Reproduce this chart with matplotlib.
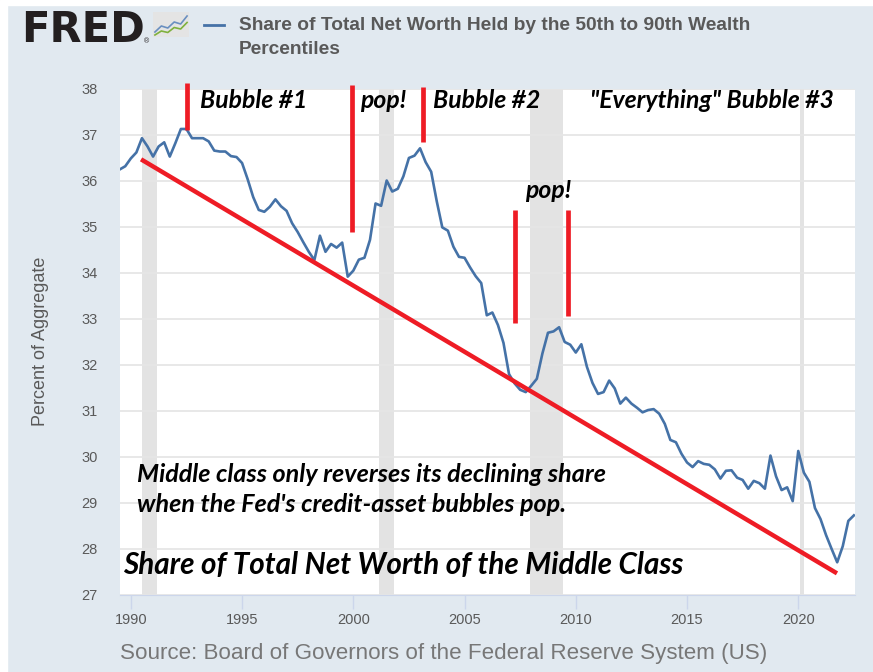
import numpy as np
import matplotlib.pyplot as plt
from matplotlib.patches import Rectangle

# quarterly data, 1989Q3 .. 2022Q3 (percent of aggregate)
share = [
    36.24, 36.31, 36.48, 36.61, 36.92, 36.74, 36.52, 36.74, 36.83, 36.52,
    36.81, 37.12, 37.12, 36.92, 36.92, 36.92, 36.85, 36.65, 36.63, 36.63,
    36.53, 36.51, 36.38, 36.03, 35.64, 35.36, 35.32, 35.43, 35.59, 35.44,
    35.34, 35.07, 34.88, 34.66, 34.45, 34.27, 34.80, 34.45, 34.62, 34.54,
    34.65, 33.91, 34.04, 34.28, 34.32, 34.71, 35.50, 35.45, 36.00, 35.76,
    35.82, 36.09, 36.49, 36.54, 36.70, 36.40, 36.19, 35.55, 34.98, 34.91,
    34.56, 34.34, 34.32, 34.11, 33.92, 33.77, 33.07, 33.13, 32.86, 32.47,
    31.79, 31.59, 31.45, 31.40, 31.54, 31.69, 32.24, 32.69, 32.72, 32.81,
    32.49, 32.43, 32.26, 32.44, 31.95, 31.60, 31.36, 31.40, 31.65, 31.48,
    31.15, 31.28, 31.15, 31.06, 30.96, 31.01, 31.03, 30.93, 30.71, 30.36,
    30.31, 30.06, 29.87, 29.77, 29.90, 29.84, 29.82, 29.72, 29.52, 29.69,
    29.70, 29.54, 29.49, 29.30, 29.47, 29.42, 29.30, 30.02, 29.57, 29.27,
    29.33, 29.03, 30.12, 29.65, 29.45, 28.88, 28.64, 28.29, 27.99, 27.70,
    28.05, 28.60, 28.72,
]
start_year = 1989.5
years = start_year + 0.25 * np.arange(len(share))

recessions = [(1990.5, 1991.17), (2001.17, 2001.83), (2007.92, 2009.42), (2020.08, 2020.25)]

# hand drawn annotations
trend_x = [1990.46, 2021.74]
trend_y = [36.46, 27.46]
bar_x = [1992.51, 1999.93, 2003.15, 2007.27, 2009.64]
bar_top = [38.12, 38.08, 38.04, 35.36, 35.36]
bar_bottom = [37.10, 34.87, 36.84, 32.90, 33.05]

x_ticks = [1990, 1995, 2000, 2005, 2010, 2015, 2020]
y_ticks = list(range(27, 39))

# little logo icon
icon_x = [0, 1, 2, 3, 4, 5]
icon_blue = [1.0, 2.2, 1.8, 3.0, 2.6, 4.2]
icon_green = [0.4, 1.2, 0.9, 1.9, 1.6, 2.9]

W, H = 873, 672
blue = '#4572a7'
red = '#ee1c25'
grey_txt = '#595959'


def fx(x):
    return x / W


def fy(y):
    return 1 - y / H


fig = plt.figure(figsize=(W / 100, H / 100), dpi=100, facecolor='#e1e9f0')
fig.patches.append(Rectangle((0, 0), fx(7), 1, transform=fig.transFigure,
                             color='white', zorder=0))
fig.patches.append(Rectangle((0, fy(5)), 1, 5 / H, transform=fig.transFigure,
                             color='white', zorder=0))

ax = fig.add_axes([fx(119.7), fy(594.5), fx(855 - 119.7), (594.5 - 88.5) / H])
ax.set_facecolor('white')
for a, b in recessions:
    ax.axvspan(a, b, color='#e3e3e3', lw=0, zorder=0)
ax.set_yticks(y_ticks)
ax.set_xticks(x_ticks)
ax.grid(axis='y', color='#e6e6e6', lw=1.3, zorder=0.5)
ax.set_xlim(1989.5, 2022.55)
ax.set_ylim(27, 38)
for s in ['top', 'right', 'left']:
    ax.spines[s].set_visible(False)
ax.spines['bottom'].set_color('#ccd6eb')
ax.tick_params(axis='x', length=10, color='#ccd6eb', width=1, pad=3,
               labelsize=10.5, labelcolor=grey_txt)
ax.tick_params(axis='y', length=0, pad=16, labelsize=10.5, labelcolor=grey_txt)
for lab in ax.get_xticklabels() + ax.get_yticklabels():
    lab.set_fontfamily('Liberation Sans')
ax.set_ylabel('Percent of Aggregate', fontsize=13, color=grey_txt,
              family='Liberation Sans', labelpad=23)

ax.plot(years, share, color=blue, lw=1.9, zorder=3)

# annotations
ax.plot(trend_x, trend_y, color=red, lw=3.2, zorder=4, solid_capstyle='butt')
ax.vlines(bar_x, bar_bottom, bar_top, color=red, lw=3.4, zorder=4, clip_on=False)

ann = dict(family='Lato', weight='bold', style='italic', color='black', va='center')
small = 17.8
fig.text(fx(200), fy(101), 'Bubble #1', fontsize=small, **ann)
fig.text(fx(360), fy(101), 'pop!', fontsize=small, **ann)
fig.text(fx(433), fy(101), 'Bubble #2', fontsize=small, **ann)
fig.text(fx(590), fy(101), '"Everything" Bubble #3', fontsize=small, **ann)
fig.text(fx(525), fy(190), 'pop!', fontsize=small, **ann)
fig.text(fx(137), fy(474), 'Middle class only reverses its declining share',
         fontsize=18.1, **ann)
fig.text(fx(137), fy(505), "when the Fed's credit-asset bubbles pop.",
         fontsize=18.1, **ann)
fig.text(fx(123), fy(565), 'Share of Total Net Worth of the Middle Class',
         fontsize=21.3, **ann)

# FRED header
fig.text(fx(21), fy(30), 'FRED', family='DejaVu Sans', weight='bold',
         fontsize=30, color='#231f20', va='center')
fig.text(fx(144), fy(42), '\u00ae', family='Liberation Sans', fontsize=5,
         color='#231f20', va='center')
iax = fig.add_axes([fx(153), fy(37), fx(36), 25 / H])
iax.plot(icon_x, icon_blue, color='#6a8fc0', lw=1.2)
iax.plot(icon_x, icon_green, color='#7fb13d', lw=1.2)
iax.set_xlim(-0.3, 5.3)
iax.set_ylim(0, 5)
iax.axis('off')
iax.add_patch(Rectangle((0, 0), 1, 1, transform=iax.transAxes,
                        color='#e4e4e4', zorder=0))

fig.add_artist(plt.Line2D([fx(204), fx(224)], [fy(25), fy(25)], color=blue, lw=2))
fig.text(fx(239), fy(25), 'Share of Total Net Worth Held by the 50th to 90th Wealth',
         family='Liberation Sans', weight='bold', fontsize=13.75, color=grey_txt,
         va='center')
fig.text(fx(239), fy(49), 'Percentiles', family='Liberation Sans', weight='bold',
         fontsize=13.75, color=grey_txt, va='center')

fig.text(fx(120), fy(653), 'Source: Board of Governors of the Federal Reserve System (US)',
         family='Liberation Sans', fontsize=16.1, color='#777777', va='center')

fig.savefig('out.png', dpi=100, facecolor=fig.get_facecolor())
